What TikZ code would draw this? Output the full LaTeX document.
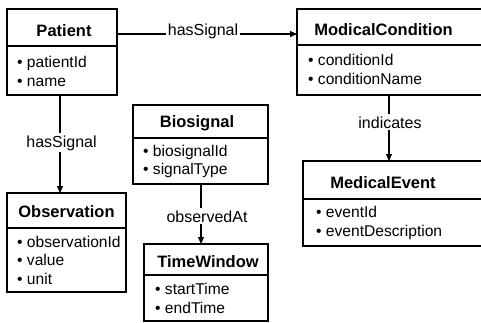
\documentclass[tikz,border=0pt]{standalone}
\usepackage{fontspec}
\setmainfont{Liberation Sans}
\usetikzlibrary{arrows.meta}
\begin{document}
\begin{tikzpicture}[x=1pt,y=-1pt,
  box/.style={draw=black,line width=1.1pt,minimum width=#1,inner sep=0pt,outer sep=0pt,anchor=north west},
  divline/.style={line width=1.1pt},
  ttl/.style={anchor=base,inner sep=0pt,font=\fontsize{16.5}{19}\selectfont\bfseries},
  attr/.style={anchor=base west,inner sep=0pt,font=\fontsize{15.6}{19}\selectfont},
  lbl/.style={anchor=base,fill=white,inner sep=2pt,font=\fontsize{16}{19}\selectfont},
  arr/.style={line width=1.1pt,-{Triangle[length=7pt,width=6pt]}}]
\useasboundingbox (0,0) rectangle (481,322);
\clip (0,0) rectangle (481,322);
\fill[white] (0,0) rectangle (481,322);
% boxes
\node[box=110pt,minimum height=86pt] (patient) at (7,9) {};
\node[box=186pt,minimum height=86pt] (cond) at (297,9) {};
\node[box=180pt,minimum height=85pt] (event) at (303,161) {};
\node[box=119pt,minimum height=99pt] (obs) at (7,193) {};
\node[box=135pt,minimum height=79pt] (bio) at (133,105) {};
\node[box=124pt,minimum height=77pt] (tw) at (144,244) {};
% dividers
\coordinate (dp) at (0,46);  \draw[divline] (patient.west |- dp) -- (patient.east |- dp);
\coordinate (dc) at (0,45);  \draw[divline] (cond.west |- dc) -- (cond.east |- dc);
\coordinate (de) at (0,199); \draw[divline] (event.west |- de) -- (event.east |- de);
\coordinate (do) at (0,228); \draw[divline] (obs.west |- do) -- (obs.east |- do);
\coordinate (db) at (0,138); \draw[divline] (bio.west |- db) -- (bio.east |- db);
\coordinate (dt) at (0,275); \draw[divline] (tw.west |- dt) -- (tw.east |- dt);
% titles
\node[ttl] (tp) at (64,36) {Patient};
\node[ttl] (tc) at (383.5,35) {ModicalCondition};
\node[ttl] (te) at (383,188) {MedicalEvent};
\node[ttl] (to) at (66.5,217) {Observation};
\node[ttl] (tb) at (197,127) {Biosignal};
\node[ttl] (tt) at (208,267) {TimeWindow};
% attributes
\node[attr] (a1) at (17,67) {• patientId};
\node[attr] (a2) at (17,86) {• name};
\node[attr] (a3) at (308,65) {• conditionId};
\node[attr] (a4) at (308,84) {• conditionName};
\node[attr] (a5) at (316,217) {• eventId};
\node[attr] (a6) at (316,236) {• eventDescription};
\node[attr] (a7) at (17,247) {• observationId};
\node[attr] (a8) at (17,265) {• value};
\node[attr] (a9) at (17,284) {• unit};
\node[attr] (a10) at (143,156) {• biosignalId};
\node[attr] (a11) at (143,174) {• signalType};
\node[attr] (a12) at (155,294) {• startTime};
\node[attr] (a13) at (155,313) {• endTime};
% connectors
\coordinate (hy) at (0,34);
\draw[arr] (patient.east |- hy) -- (cond.west |- hy);
\coordinate (v1) at (60,0);
\draw[arr] (patient.south -| v1) -- (obs.north -| v1);
\coordinate (v2) at (201,0);
\draw[arr] (bio.south -| v2) -- (tw.north -| v2);
\coordinate (v3) at (389,0);
\draw[arr] (cond.south -| v3) -- (event.north -| v3);
% labels
\node[lbl] (l1) at (203,35) {hasSignal};
\node[lbl] (l2) at (61.5,147) {hasSignal};
\node[lbl] (l3) at (207,222) {observedAt};
\node[lbl] (l4) at (390,128) {indicates};
\end{tikzpicture}
\end{document}
